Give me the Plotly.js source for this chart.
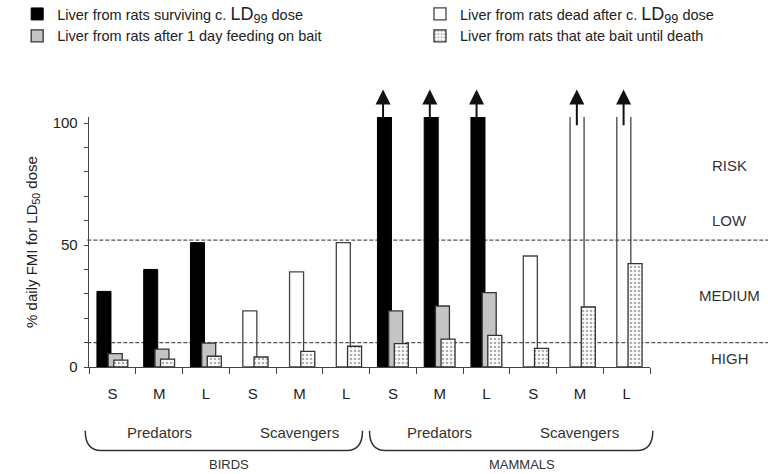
<!DOCTYPE html>
<html><head><meta charset="utf-8">
<script src="https://cdn.plot.ly/plotly-3.0.1.min.js"></script>
<style>html,body{margin:0;padding:0;background:#fff}#chart{width:768px;height:474px}</style>
</head><body><div id="chart"></div>
<script>
// ---- data ----
const sizes   = ['S','M','L','S','M','L','S','M','L','S','M','L'];
const feeding = ['Predators','Predators','Predators','Scavengers','Scavengers','Scavengers',
                 'Predators','Predators','Predators','Scavengers','Scavengers','Scavengers'];
const taxa    = ['BIRDS','BIRDS','BIRDS','BIRDS','BIRDS','BIRDS',
                 'MAMMALS','MAMMALS','MAMMALS','MAMMALS','MAMMALS','MAMMALS'];
// values above 100 run off the top of the chart (marked with arrows)
const surviving  = [31, 40, 51, null, null, null, 110, 110, 110, null, null, null];
const deadAfter  = [null, null, null, 23, 39, 51, null, null, null, 45.5, 110, 110];
const oneDay     = [5.5, 7.3, 9.8, null, null, null, 23, 25, 30.5, null, null, null];
const untilDeath = [2.8, 3.2, 4.4, 4.1, 6.4, 8.5, 9.6, 11.4, 13, 7.6, 24.6, 42.4];
const thresholds = [52, 10];
const yTickVals  = [0,10,20,30,40,50,60,70,80,90,100];
const yTickText  = ['0','','','','','50','','','','','100'];
const riskLabels = ['RISK','LOW','MEDIUM','HIGH'];
const riskLabelY = [82.8, 60.2, 29.4, 3.6];

// ---- build ----
const keys = sizes.map((s,i)=>taxa[i]+'|'+feeding[i]+'|'+s);
const W = 0.3;
const LD99 = '<span style="font-size:18px">LD<sub>99</sub></span>';
function bar(name, y, offset, marker, legend){
  return {type:'bar', x:keys, y:y, name:name, offset:offset, width:W, marker:marker, hoverinfo:'skip', legend:legend};
}
const traces = [
  bar('Liver from rats surviving c. '+LD99+' dose', surviving, -0.33, {color:'#000', line:{color:'#000', width:1}}, 'legend'),
  bar('Liver from rats dead after c. '+LD99+' dose', deadAfter, -0.21, {color:'rgba(255,255,255,0)', line:{color:'#444', width:1.3}}, 'legend2'),
  bar('Liver from rats after 1 day feeding on bait', oneDay, -0.09, {color:'#c4c4c4', line:{color:'#333', width:1.3}}, 'legend'),
  bar('Liver from rats that ate bait until death', untilDeath, 0.03, {color:'#fff', line:{color:'#333', width:1.3},
      pattern:{shape:'.', fgcolor:'#b0b0b0', bgcolor:'#fff', size:4, solidity:0.35}}, 'legend2')
];

const shapes = thresholds.map(t=>({type:'line', xref:'paper', yref:'y', x0:-0.003, x1:1.215, y0:t, y1:t,
  layer:'below', line:{color:'#555', width:1.3, dash:'4px,2px'}}));

// braces under groups (category index -> paper)
const toPaper = i => (i+0.5)/12;
function brace(i0, i1){
  const a = toPaper(i0), b = toPaper(i1), r = 0.028, yt = -0.255, yb = -0.334;
  return {type:'path', xref:'paper', yref:'paper', line:{color:'#333', width:1.5},
    path:`M${a},${yt} Q${a},${yb} ${a+r},${yb} L${b-r},${yb} Q${b},${yb} ${b},${yt}`};
}
shapes.push(brace(-0.58, 5.35), brace(5.5, 11.56));

const annotations = [];
// arrows for off-scale bars
[[surviving,-0.21],[deadAfter,-0.065]].forEach(([arr,off],si)=>{
  arr.forEach((v,i)=>{ if(v!==null && v>100){
    annotations.push({x:i+off, y:113.8, xref:'x', yref:'y', axref:'x', ayref:'y', ax:i+off, ay: si===0?101:98.5,
      showarrow:true, arrowhead:2, arrowsize:1.5, arrowwidth:2, arrowcolor:'#111', text:''});
  }});
});
// group labels
function groupLabels(labelsArr, keyFn, y, size, shifts){
  const seen = {};
  labelsArr.forEach((l,i)=>{ const k = keyFn(i); (seen[k] = seen[k] || {label:l, idx:[]}).idx.push(i); });
  Object.values(seen).forEach(g=>{
    const m = g.idx.reduce((a,b)=>a+b,0)/g.idx.length;
    annotations.push({x:m, y:y, xref:'x', yref:'paper', yanchor:'middle', xanchor:'center', text:g.label, showarrow:false,
      xshift:(shifts&&shifts[g.label])||0, font:{size:size, color:'#333'}});
  });
}
groupLabels(feeding, i=>taxa[i]+feeding[i], -0.262, 15);
groupLabels(taxa, i=>taxa[i], -0.39, 13, {MAMMALS:12});
riskLabels.forEach((t,i)=>annotations.push({x:1.1426, y:riskLabelY[i], xref:'paper', yref:'y', text:t,
  xanchor:'center', yanchor:'middle', showarrow:false, font:{size:15, color:'#333'}}));

const legendBase = {orientation:'v', y:1.476, xanchor:'left', yanchor:'top',
  font:{size:14.5, color:'#222'}, itemwidth:30, tracegroupgap:0, traceorder:'normal', bgcolor:'rgba(0,0,0,0)'};
const layout = {
  width:768, height:474,
  margin:{l:89, r:118, t:117, b:107, autoexpand:false},
  paper_bgcolor:'#fff', plot_bgcolor:'#fff',
  font:{family:'Liberation Sans, Arial, sans-serif', color:'#222'},
  barmode:'overlay',
  showlegend:true,
  legend:Object.assign({x:-0.128}, legendBase),
  legend2:Object.assign({x:0.59}, legendBase),
  xaxis:{type:'category', range:[-0.5,11.5], tickmode:'array', tickvals:keys, ticktext:sizes, tickson:'boundaries',
    ticks:'outside', ticklen:6, tickcolor:'#444', showline:true, linecolor:'#444', linewidth:1.3,
    showgrid:false, zeroline:false, tickfont:{size:15, color:'#222'}, ticklabelstandoff:13, fixedrange:true},
  yaxis:{range:[0,102.5], tickmode:'array', tickvals:yTickVals, ticktext:yTickText, ticks:'outside', ticklen:4,
    tickcolor:'#444', showline:true, linecolor:'#444', linewidth:1.3, showgrid:false, zeroline:false,
    tickfont:{size:15, color:'#222'}, ticklabelstandoff:3,
    title:{text:'% daily FMI for LD<sub>50</sub> dose', font:{size:15, color:'#222'}, standoff:11}},
  yaxis2:{overlaying:'y', side:'left', anchor:'x', range:[0,102.5], tickmode:'array', tickvals:yTickVals,
    ticks:'inside', ticklen:4, tickcolor:'#444', showticklabels:false, showline:false, showgrid:false, zeroline:false},
  shapes:shapes,
  annotations:annotations
};
Plotly.newPlot('chart', traces, layout, {staticPlot:true});
</script></body></html>
